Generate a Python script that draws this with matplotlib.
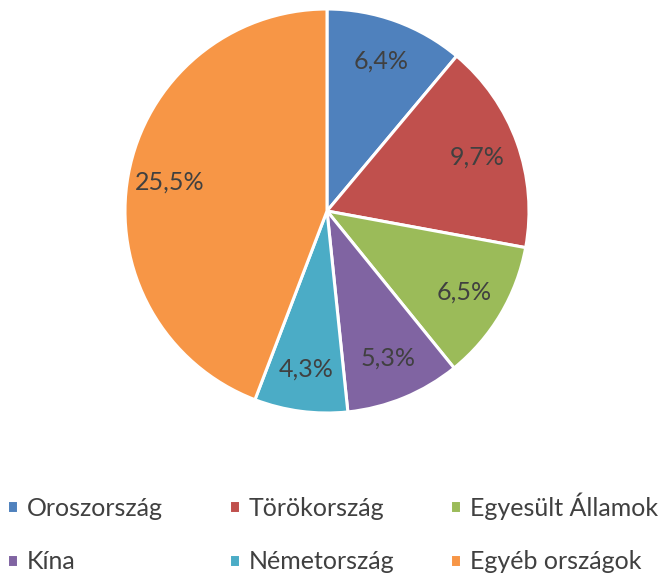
import numpy as np
import matplotlib.pyplot as plt

countries = ['Oroszország', 'Törökország', 'Egyesült Államok',
             'Kína', 'Németország', 'Egyéb országok']
shares = [6.4, 9.7, 6.5, 5.3, 4.3, 25.5]
colors = ['#4F81BD', '#C0504D', '#9BBB59', '#8064A2', '#4BACC6', '#F79646']

plt.rcParams['font.family'] = ['Lato', 'DejaVu Sans']
text_color = '#404040'

W, H = 662, 574
fig = plt.figure(figsize=(W / 100, H / 100), dpi=100)

# pie centre ~ (327, 211) px, radius ~ 202 px
cx, cy, r = 327, 211, 202
ax = fig.add_axes([(cx - r) / W, (H - cy - r) / H, 2 * r / W, 2 * r / H])

wedges, _ = ax.pie(shares, colors=colors, startangle=90, counterclock=False,
                   radius=1, wedgeprops=dict(edgecolor='white', linewidth=2.2))
for w, v in zip(wedges, shares):
    ang = np.deg2rad((w.theta1 + w.theta2) / 2)
    ax.text(0.79 * np.cos(ang), 0.79 * np.sin(ang), f'{v:.1f}%'.replace('.', ','),
            ha='center', va='center', fontsize=18, color=text_color)
ax.set_xlim(-1, 1)
ax.set_ylim(-1, 1)
ax.set_aspect('equal')
ax.axis('off')

# legend: three columns of two entries each
col_x = [7, 229, 450]
for i, x0 in enumerate(col_x):
    idx = [i, i + 3]
    fig.legend([wedges[j] for j in idx], [countries[j] for j in idx],
               loc='lower left', bbox_to_anchor=(x0 / W, 1 - 573 / H),
               frameon=False, fontsize=18, labelcolor=text_color,
               handlelength=0.42, handleheight=0.42, handletextpad=0.36,
               labelspacing=1.22, borderpad=0, borderaxespad=0)

fig.savefig('out.png', dpi=100)
